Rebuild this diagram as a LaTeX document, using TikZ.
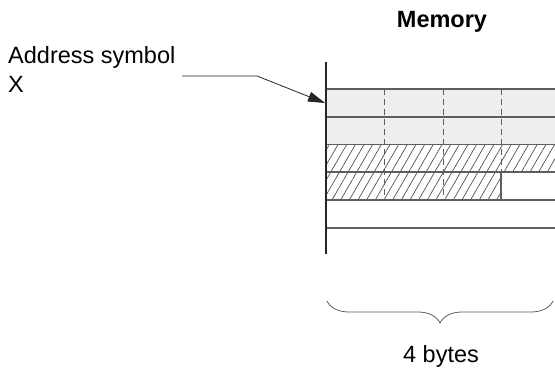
\documentclass[tikz,border=0pt]{standalone}
\usepackage{fontspec}
\setmainfont{Liberation Sans}
\usetikzlibrary{arrows.meta,decorations.pathreplacing,patterns.meta}
\definecolor{MemGrid}{HTML}{5E5E5E}
\definecolor{MemFill}{HTML}{EEF0EF}
\definecolor{MemInk}{HTML}{262626}

\begin{document}
\begin{tikzpicture}[x=1pt, y=-1pt,
  grid/.style={draw=MemGrid, line width=1.1pt},
  sep/.style={draw=MemGrid, line width=0.9pt, dash pattern=on 6pt off 4pt},
  hatch/.style={pattern={Lines[angle=60,distance=7.5pt,line width=0.7pt]},
                pattern color=MemInk!80},
  arr/.style={-{Triangle[length=17pt,width=10pt]}, line width=0.8pt, color=MemInk},
  lbl/.style={font=\fontsize{23.5}{29}\selectfont, inner sep=0pt, text=black}
]
\useasboundingbox (0,0) rectangle (555,370);

% Memory words
\fill[MemFill] (326,89) rectangle (555,144.5);
\fill[hatch] (326,144.5) rectangle (555,172);
\fill[hatch] (326,172) rectangle (501,200);

% Byte separators
\foreach \x in {384,443}
  \draw[sep] (\x,89) -- (\x,200);
\draw[sep] (501,89) -- (501,172);
\draw[grid] (501,172) -- (501,200);

% Word boundaries
\foreach \y in {89,117,144.5,172,200,228}
  \draw[grid] (326,\y) -- (555,\y);

% Memory start line
\draw[draw=MemInk, line width=2pt] (326,62) -- (326,254);

% Titles
\node[lbl, font=\fontsize{23.5}{29}\selectfont\bfseries, anchor=base] (mem)
  at (442,27) {Memory};
\node[lbl, anchor=base west] (addr) at (8,63) {Address symbol};
\node[lbl, anchor=base west] (addrx) at (8,92) {X};

% Pointer to address X
\coordinate (lead) at (182,76);
\coordinate (xaddr) at (325,103);
\draw[arr] (lead) -- ++(75,0) -- (xaddr);

% Word width
\coordinate (bl) at (327,301);
\coordinate (br) at (553,301);
\draw[draw=MemGrid, line width=0.8pt, decorate,
      decoration={brace, amplitude=22pt}] (br) -- (bl);
\node[lbl, anchor=base] (bytes) at (441,362) {4 bytes};

\end{tikzpicture}
\end{document}
